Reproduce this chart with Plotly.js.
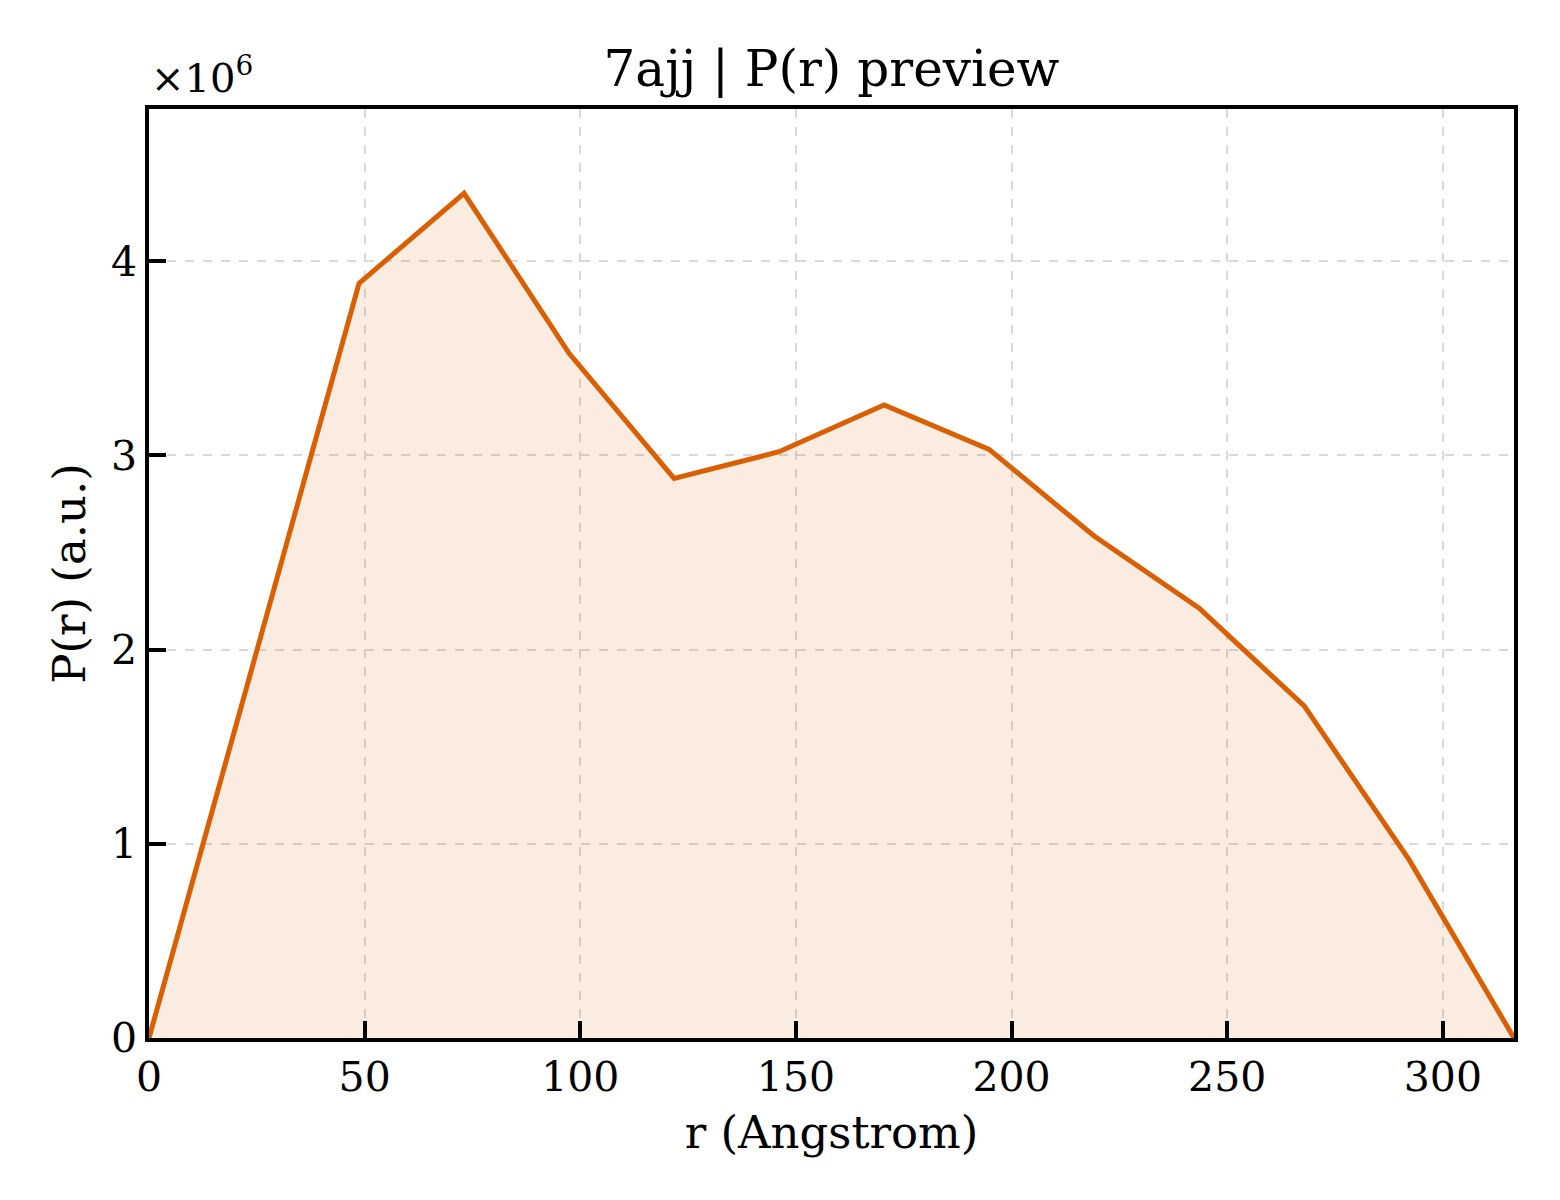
<!DOCTYPE html>
<html>
<head>
<meta charset="utf-8">
<script src="https://cdn.plot.ly/plotly-3.0.1.min.js"></script>
<style>
  body { margin: 0; background: #ffffff; }
  #chart { width: 1560px; height: 1200px; }
</style>
</head>
<body>
<div id="chart"></div>
<script>
// P(r) curve (r in Angstrom, P in a.u.)
var rValues = [0, 24.35, 48.7, 73.05, 97.4, 121.75, 146.1, 170.45, 194.8, 219.15, 243.5, 267.85, 292.2, 316.5];
var prValues = [0, 1940000, 3886000, 4350000, 3526000, 2882000, 3019000, 3260000, 3031000, 2585000, 2213000, 1710000, 917000, 0];

var yTickVals = [0, 1000000, 2000000, 3000000, 4000000];
var yTickText = ["0", "1", "2", "3", "4"];
var xTickVals = [0, 50, 100, 150, 200, 250, 300];

var lineColor = "#d95f02";
var serif = "DejaVu Serif, serif";

var trace = {
    x: rValues,
    y: prValues,
    type: "scatter",
    mode: "lines",
    fill: "tozeroy",
    fillcolor: "rgba(217,95,2,0.12)",
    line: { color: lineColor, width: 5 },
    hoverinfo: "skip"
};

var axisCommon = {
    showline: true,
    linecolor: "#000000",
    linewidth: 3.5,
    mirror: true,
    ticks: "inside",
    ticklen: 17,
    tickwidth: 3.5,
    tickcolor: "#000000",
    showgrid: true,
    gridcolor: "#d9d9d9",
    gridwidth: 1.5,
    griddash: "dash",
    zeroline: false,
    tickfont: { family: serif, size: 41, color: "#000000" }
};

var layout = {
    width: 1560,
    height: 1200,
    paper_bgcolor: "#ffffff",
    plot_bgcolor: "#ffffff",
    margin: { l: 149, r: 46, t: 109, b: 162 },
    showlegend: false,
    font: { family: serif, color: "#000000" },
    title: {
        text: "7ajj | P(r) preview",
        font: { family: serif, size: 50, color: "#000000" },
        x: 0.533,
        xanchor: "center",
        y: 1 - 68 / 1200,
        yanchor: "middle"
    },
    xaxis: Object.assign({}, axisCommon, {
        range: [0, 316.5],
        tickvals: xTickVals,
        title: { text: "r (Angstrom)", font: { family: serif, size: 45 }, standoff: 18 }
    }),
    yaxis: Object.assign({}, axisCommon, {
        range: [0, 4784000],
        tickvals: yTickVals,
        ticktext: yTickText,
        title: { text: "P(r) (a.u.)", font: { family: serif, size: 45 }, standoff: 12 }
    }),
    annotations: [{
        text: "×10<sup>6</sup>",
        xref: "paper", yref: "paper",
        x: 0, y: 1,
        xanchor: "left", yanchor: "bottom",
        yshift: 6,
        showarrow: false,
        font: { family: serif, size: 40, color: "#000000" }
    }]
};

Plotly.newPlot("chart", [trace], layout, { displayModeBar: false });
</script>
</body>
</html>
